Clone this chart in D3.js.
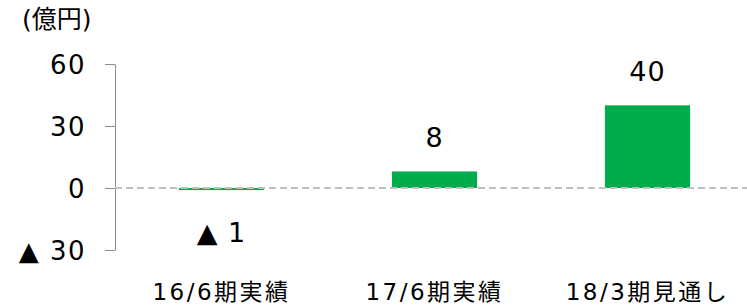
<!DOCTYPE html>
<meta charset="utf-8">
<style>
body { margin: 0; background: #fff; }
text { font-family: "DejaVu Sans", "Noto Sans CJK JP", sans-serif; fill: #000; }
</style>
<body>
<script src="https://d3js.org/d3.v7.min.js"></script>
<script>

var categories = ["16/6期実績", "17/6期実績", "18/3期見通し"];
var values = [-1, 8, 40];
var tickValues = [-30, 0, 30, 60];
var tickLabels = ["▲ 30", "0", "30", "60"];

var width = 747,
    height = 308;

var svg = d3.select("body").append("svg")
    .attr("width", width)
    .attr("height", height);

var x = d3.scaleBand()
    .domain(categories)
    .range([115, 754])
    .paddingInner(0.6)
    .paddingOuter(0.3);

var y = d3.scaleLinear()
    .domain([-30, 60])
    .range([250, 64]);

function fmt(v) { return v < 0 ? "▲ " + Math.abs(v) : String(v); }

// unit
svg.append("text")
    .attr("x", 22)
    .attr("y", 28)
    .attr("font-size", 25)
    .attr("font-family", "'Noto Sans CJK JP', sans-serif")
    .text("(億円)");

// y axis
var axis = svg.append("g")
    .attr("transform", "translate(115,0)")
    .call(d3.axisLeft(y).tickValues(tickValues).tickSize(10).tickSizeOuter(0)
        .tickFormat(function(d, i) { return tickLabels[i]; }));
axis.select(".domain").attr("stroke", "#8c8c8c");
axis.selectAll(".tick line").attr("stroke", "#8c8c8c");
axis.selectAll(".tick text")
    .attr("x", -29)
    .attr("dy", "0.36em")
    .attr("font-size", 26)
    .attr("letter-spacing", 1.5)
    .attr("font-family", "'DejaVu Sans', 'Noto Sans CJK JP', sans-serif")
    .attr("fill", "#000");

// bars
svg.selectAll(".bar")
    .data(values)
    .enter()
    .append("rect")
    .attr("class", "bar")
    .attr("x", function(d, i) { return x(categories[i]); })
    .attr("y", function(d) { return y(Math.max(0, d)); })
    .attr("width", x.bandwidth())
    .attr("height", function(d) { return Math.abs(y(d) - y(0)); })
    .attr("fill", "#00ac4c");

// zero line
svg.append("line")
    .attr("x1", 115)
    .attr("x2", width)
    .attr("y1", y(0))
    .attr("y2", y(0))
    .attr("stroke", "#c0c0c0")
    .attr("stroke-width", 2)
    .attr("stroke-dasharray", "7,4");

// value labels
svg.selectAll(".val")
    .data(values)
    .enter()
    .append("text")
    .attr("class", "val")
    .attr("text-anchor", "middle")
    .attr("font-size", 27)
    .attr("letter-spacing", 1)
    .attr("x", function(d, i) { return x(categories[i]) + x.bandwidth() / 2; })
    .attr("y", function(d) { return d < 0 ? y(d) + 52 : y(d) - 24; })
    .text(fmt);

// category labels
svg.selectAll(".cat")
    .data(categories)
    .enter()
    .append("text")
    .attr("class", "cat")
    .attr("text-anchor", "middle")
    .attr("font-size", 23)
    .attr("letter-spacing", 2.5)
    .attr("x", function(d) { return x(d) + x.bandwidth() / 2; })
    .attr("y", 300)
    .text(function(d) { return d; });

</script>
